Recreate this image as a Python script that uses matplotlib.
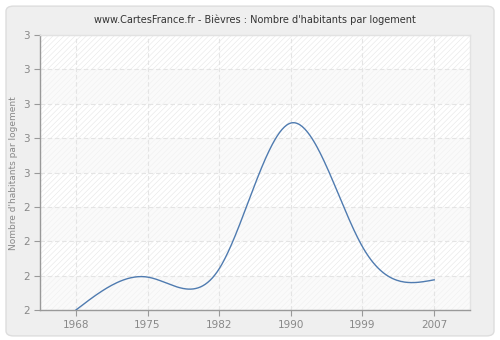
import numpy as np
import matplotlib
matplotlib.use("Agg")
import matplotlib.pyplot as plt
from matplotlib.patches import FancyBboxPatch

# ======================================================
# DATA
# ======================================================

years = ["1968", "1975", "1982", "1990", "1999", "2007"]
values = [2.00, 2.12, 2.15, 2.68, 2.23, 2.11]

y_ticks = [2.0, 2.125, 2.25, 2.375, 2.5, 2.625, 2.75, 2.875, 3.0]
y_tick_labels = ["2", "2", "2", "2", "3", "3", "3", "3", "3"]

title = "www.CartesFrance.fr - Bièvres : Nombre d'habitants par logement"
y_label = "Nombre d'habitants par logement"


# ======================================================
# NATURAL CUBIC SPLINE
# ======================================================

def natural_spline(x, y, n=300):
    x = np.asarray(x, float)
    y = np.asarray(y, float)
    k = len(x)
    h = np.diff(x)
    A = np.zeros((k, k))
    b = np.zeros(k)
    A[0, 0] = 1
    A[-1, -1] = 1
    for i in range(1, k - 1):
        A[i, i - 1] = h[i - 1]
        A[i, i] = 2 * (h[i - 1] + h[i])
        A[i, i + 1] = h[i]
        b[i] = 6 * ((y[i + 1] - y[i]) / h[i] - (y[i] - y[i - 1]) / h[i - 1])
    m = np.linalg.solve(A, b)
    xs = np.linspace(x[0], x[-1], n)
    ys = np.empty_like(xs)
    for j, xv in enumerate(xs):
        i = min(np.searchsorted(x, xv, side="right") - 1, k - 2)
        t = xv - x[i]
        hi = h[i]
        a = (m[i + 1] - m[i]) / (6 * hi)
        bb = m[i] / 2
        c = (y[i + 1] - y[i]) / hi - hi * (2 * m[i] + m[i + 1]) / 6
        ys[j] = y[i] + c * t + bb * t ** 2 + a * t ** 3
    return xs, ys


# ======================================================
# PLOT
# ======================================================

plt.rcParams["hatch.linewidth"] = 0.4

fig = plt.figure(figsize=(5, 3.4), dpi=100)
fig.patch.set_facecolor("white")

panel = FancyBboxPatch((0.012, 0.012), 0.976, 0.97,
                       boxstyle="round,pad=0,rounding_size=0.015",
                       transform=fig.transFigure, facecolor="#efefef",
                       edgecolor="#dddddd", linewidth=1, zorder=-10)
fig.patches.append(panel)

ax = fig.add_axes([0.08, 0.088, 0.86, 0.809])
ax.set_zorder(1)
ax.set_facecolor("#fafafa")

x_idx = np.arange(len(years))

# alternating bands
for i in range(len(y_ticks) - 1):
    if i % 2 == 1:
        ax.axhspan(y_ticks[i], y_ticks[i + 1], facecolor="white",
                   hatch="//////", edgecolor="#e6e6e6", linewidth=0, zorder=0)
    else:
        ax.axhspan(y_ticks[i], y_ticks[i + 1], facecolor="#fafafa",
                   hatch="//////", edgecolor="#f0f0f0", linewidth=0, zorder=0)

xs, ys = natural_spline(x_idx, values)
ax.plot(xs, ys, color="#4f7bb0", linewidth=1.0, zorder=3)

ax.set_xlim(-0.5, len(years) - 0.5)
ax.set_ylim(2.0, 3.0)
ax.set_xticks(x_idx)
ax.set_xticklabels(years)
ax.set_yticks(y_ticks)
ax.set_yticklabels(y_tick_labels)

ax.grid(True, color="#e4e4e4", linestyle=(0, (4, 2.5)), linewidth=0.8)
ax.set_axisbelow(True)

for side in ["top", "right"]:
    ax.spines[side].set_color("#e2e2e2")
    ax.spines[side].set_linewidth(1)
for side in ["left", "bottom"]:
    ax.spines[side].set_color("#999999")
    ax.spines[side].set_linewidth(1)

ax.tick_params(axis="both", colors="#999999", labelcolor="#888888",
               labelsize=7.5, length=4, width=0.8)

ax.set_title(title, fontsize=7, color="#333333", pad=9)
fig.text(0.028, 0.49, y_label, rotation=90, fontsize=6.5,
         color="#888888", ha="center", va="center")

plt.savefig("out.png", dpi=100, facecolor=fig.get_facecolor())
